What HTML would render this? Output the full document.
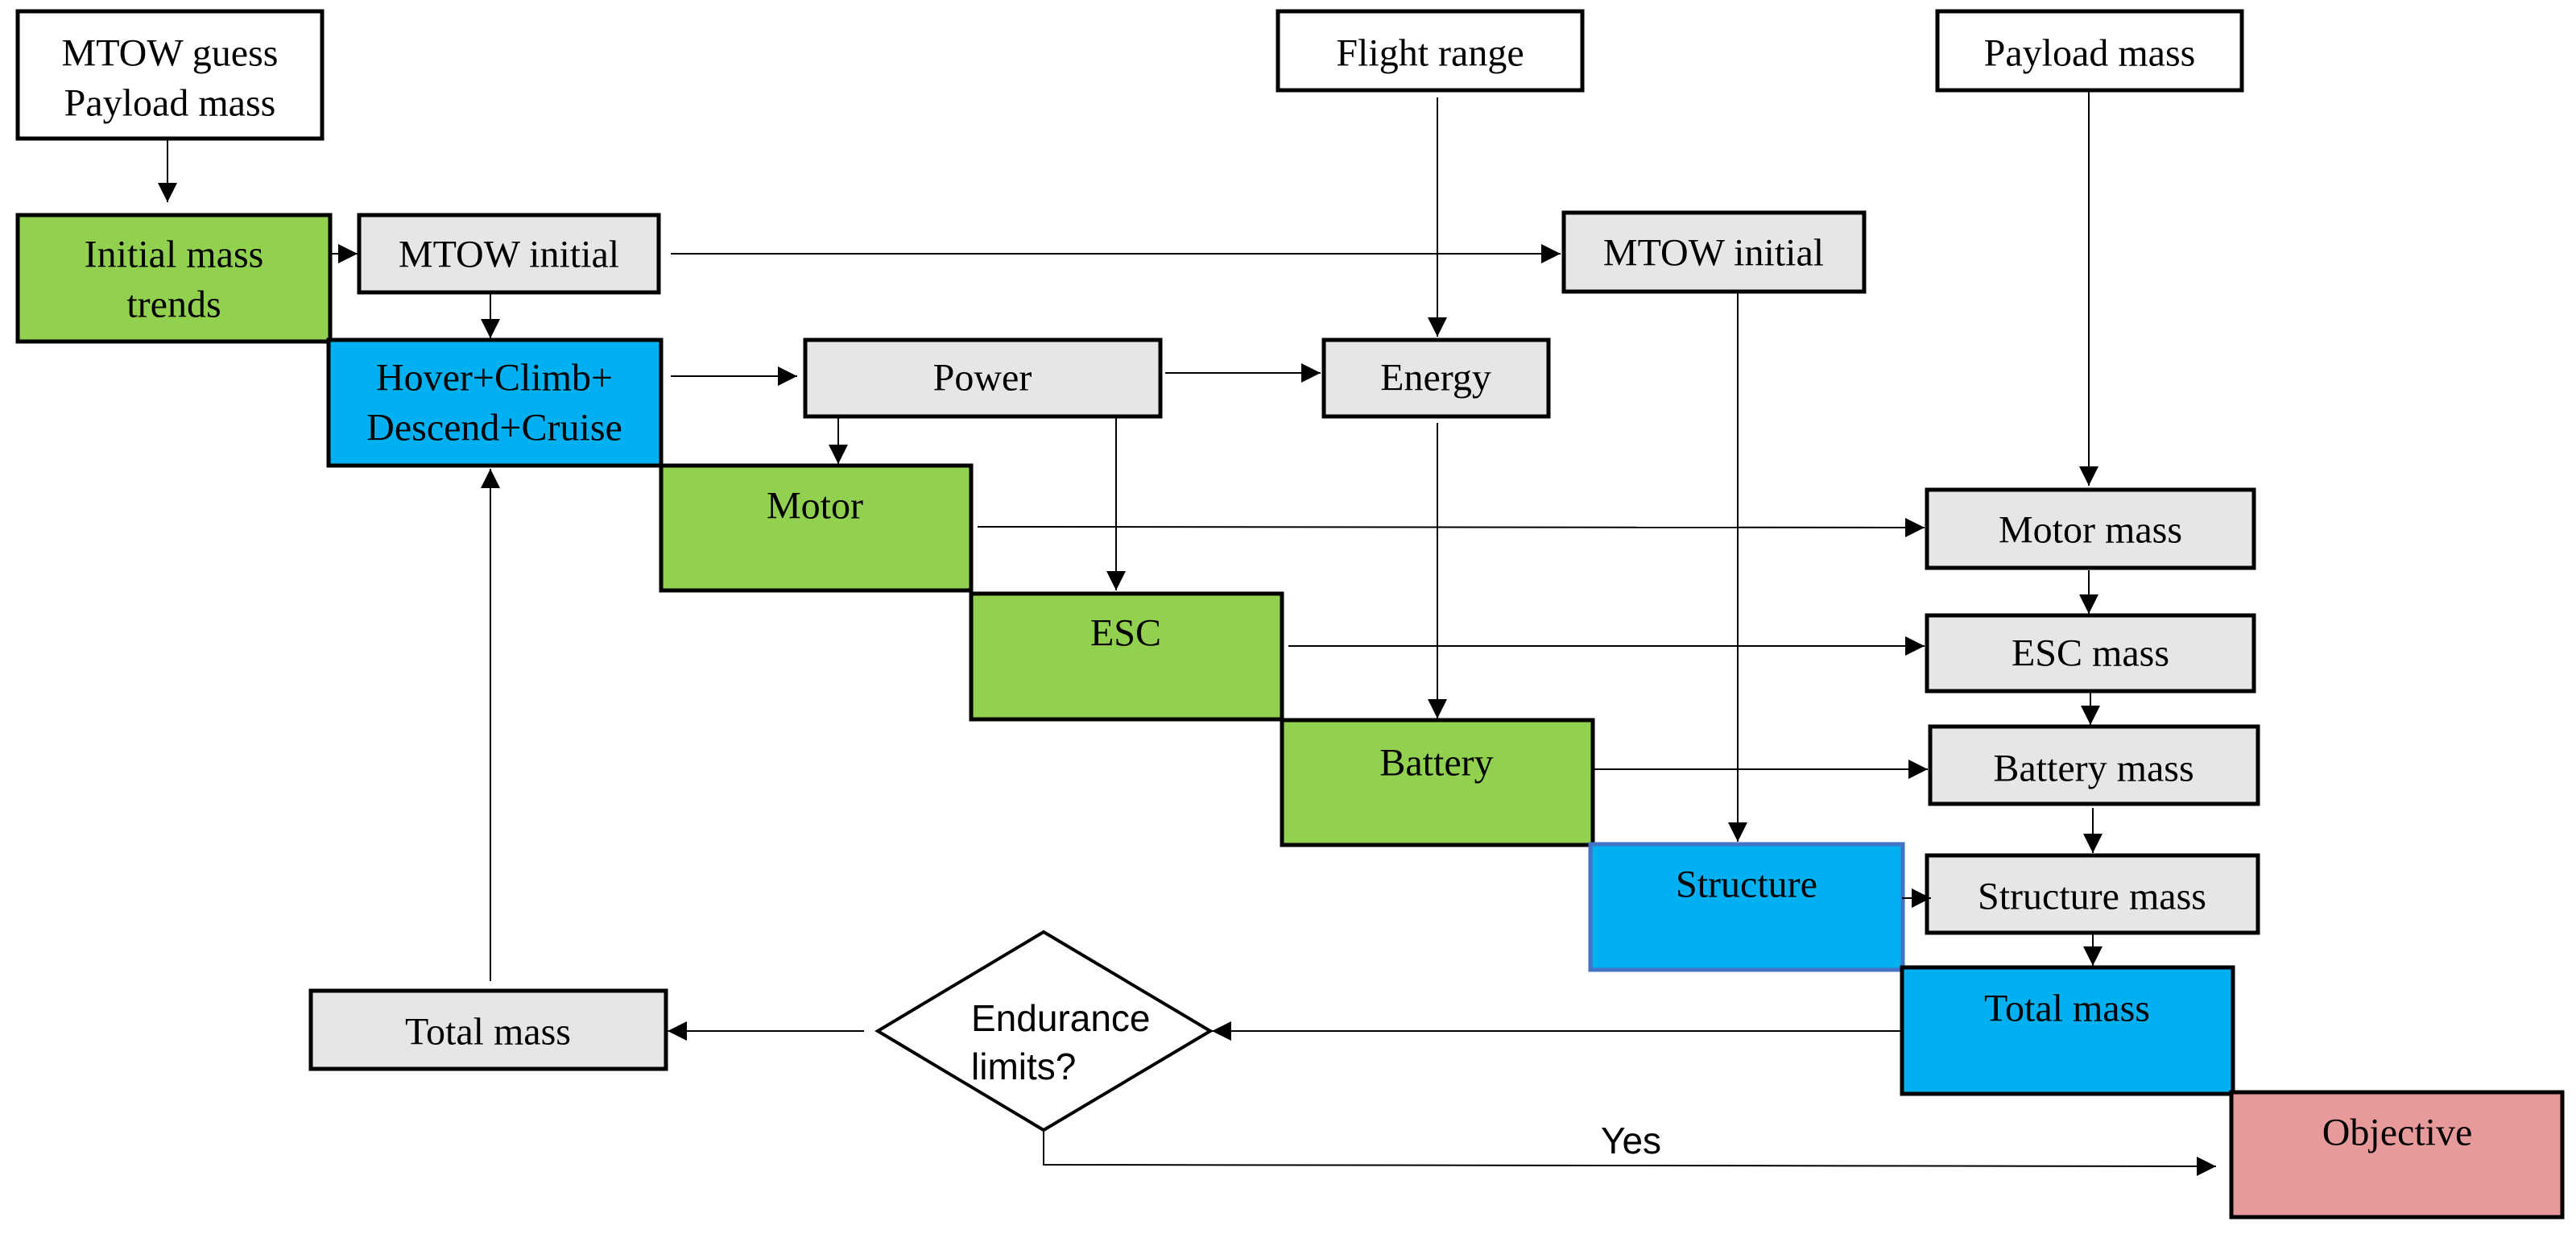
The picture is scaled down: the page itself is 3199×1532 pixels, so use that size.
<!DOCTYPE html>
<html><head><meta charset="utf-8"><style>
html,body{margin:0;padding:0;background:#fff;}
svg{display:block;}
.t{font-family:"Liberation Serif",serif;font-size:48px;text-anchor:middle;dominant-baseline:central;fill:#000;}
.s{font-family:"Liberation Sans",sans-serif;font-size:46px;fill:#000;dominant-baseline:central;}
.b{stroke:#000;stroke-width:5;}
.l{stroke:#000;stroke-width:2;fill:none;}
</style></head><body>
<svg width="3199" height="1532" viewBox="0 0 3199 1532" xmlns="http://www.w3.org/2000/svg">
<defs>
<marker id="a" markerUnits="userSpaceOnUse" markerWidth="26" markerHeight="24" refX="24" refY="12" orient="auto">
<polygon points="0,0 24,12 0,24" fill="#000"/></marker>
</defs>
<rect class="b" x="22" y="14" width="378" height="158" fill="#fff"/>
<text class="t" x="211" y="66">MTOW guess</text>
<text class="t" x="211" y="128">Payload mass</text>

<rect class="b" x="1587" y="14" width="378" height="98" fill="#fff"/>
<text class="t" x="1776" y="66">Flight range</text>
<rect class="b" x="2406" y="14" width="378" height="98" fill="#fff"/>
<text class="t" x="2595" y="66">Payload mass</text>

<rect class="b" x="22" y="267" width="388" height="157" fill="#92D050"/>
<text class="t" x="216" y="316">Initial mass</text>
<text class="t" x="216" y="378">trends</text>

<rect class="b" x="446" y="267" width="372" height="96" fill="#E6E6E6"/>
<text class="t" x="632" y="316">MTOW initial</text>
<rect class="b" x="1942" y="264" width="373" height="98" fill="#E6E6E6"/>
<text class="t" x="2128" y="314">MTOW initial</text>

<rect class="b" x="408" y="422" width="413" height="156" fill="#00B0F0"/>
<text class="t" x="614" y="469">Hover+Climb+</text>
<text class="t" x="614" y="531">Descend+Cruise</text>

<rect class="b" x="1000" y="422" width="441" height="95" fill="#E6E6E6"/>
<text class="t" x="1220" y="469">Power</text>
<rect class="b" x="1644" y="422" width="279" height="95" fill="#E6E6E6"/>
<text class="t" x="1783" y="469">Energy</text>

<rect class="b" x="821" y="578" width="385" height="155" fill="#92D050"/>
<text class="t" x="1012" y="628">Motor</text>
<rect class="b" x="1206" y="737" width="386" height="156" fill="#92D050"/>
<text class="t" x="1398" y="786">ESC</text>
<rect class="b" x="1592" y="894" width="386" height="155" fill="#92D050"/>
<text class="t" x="1784" y="947">Battery</text>
<rect x="1975" y="1048" width="388" height="156" fill="#00B0F0" stroke="#4472C4" stroke-width="5"/>
<text class="t" x="2169" y="1098">Structure</text>
<rect class="b" x="2362" y="1201" width="411" height="157" fill="#00B0F0"/>
<text class="t" x="2567" y="1252">Total mass</text>
<rect class="b" x="2771" y="1356" width="411" height="155" fill="#E89A9A"/>
<text class="t" x="2977" y="1406">Objective</text>

<rect class="b" x="2393" y="608" width="406" height="97" fill="#E6E6E6"/>
<text class="t" x="2596" y="658">Motor mass</text>
<rect class="b" x="2393" y="764" width="406" height="94" fill="#E6E6E6"/>
<text class="t" x="2596" y="811">ESC mass</text>
<rect class="b" x="2397" y="902" width="407" height="96" fill="#E6E6E6"/>
<text class="t" x="2600" y="954">Battery mass</text>
<rect class="b" x="2393" y="1062" width="411" height="96" fill="#E6E6E6"/>
<text class="t" x="2598" y="1113">Structure mass</text>
<rect class="b" x="386" y="1230" width="441" height="97" fill="#E6E6E6"/>
<text class="t" x="606" y="1281">Total mass</text>

<polygon points="1296,1157 1503,1280 1296,1403 1090,1280" fill="#fff" stroke="#000" stroke-width="4"/>
<text class="s" x="1206" y="1264">Endurance</text>
<text class="s" x="1206" y="1324">limits?</text>
<text class="s" x="1988" y="1416">Yes</text>

<line class="l" x1="208" y1="173" x2="208" y2="251" marker-end="url(#a)"/>
<line class="l" x1="412" y1="315" x2="444" y2="315" marker-end="url(#a)"/>
<line class="l" x1="833" y1="315" x2="1938" y2="315" marker-end="url(#a)"/>
<line class="l" x1="609" y1="365" x2="609" y2="420" marker-end="url(#a)"/>
<line class="l" x1="833" y1="467" x2="990" y2="467" marker-end="url(#a)"/>
<line class="l" x1="1447" y1="463" x2="1640" y2="463" marker-end="url(#a)"/>
<line class="l" x1="1785" y1="121" x2="1785" y2="418" marker-end="url(#a)"/>
<line class="l" x1="2594" y1="114" x2="2594" y2="603" marker-end="url(#a)"/>
<line class="l" x1="1041" y1="519" x2="1041" y2="576" marker-end="url(#a)"/>
<line class="l" x1="1386" y1="519" x2="1386" y2="733" marker-end="url(#a)"/>
<line class="l" x1="1214" y1="654" x2="2390" y2="655" marker-end="url(#a)"/>
<line class="l" x1="2158" y1="364" x2="2158" y2="1045" marker-end="url(#a)"/>
<line class="l" x1="1785" y1="525" x2="1785" y2="892" marker-end="url(#a)"/>
<line class="l" x1="2594" y1="708" x2="2594" y2="762" marker-end="url(#a)"/>
<line class="l" x1="1600" y1="802" x2="2390" y2="802" marker-end="url(#a)"/>
<line class="l" x1="1980" y1="955" x2="2394" y2="955" marker-end="url(#a)"/>
<line class="l" x1="2596" y1="860" x2="2596" y2="900" marker-end="url(#a)"/>
<line class="l" x1="2599" y1="1003" x2="2599" y2="1059" marker-end="url(#a)"/>
<line class="l" x1="2362" y1="1115" x2="2398" y2="1115" marker-end="url(#a)"/>
<line class="l" x1="2599" y1="1160" x2="2599" y2="1199" marker-end="url(#a)"/>
<line class="l" x1="2360" y1="1280" x2="1505" y2="1280" marker-end="url(#a)"/>
<line class="l" x1="1073" y1="1280" x2="829" y2="1280" marker-end="url(#a)"/>
<line class="l" x1="609" y1="1218" x2="609" y2="582" marker-end="url(#a)"/>
<polyline class="l" points="1296,1403 1296,1446 2752,1448" marker-end="url(#a)"/>
</svg>
</body></html>
